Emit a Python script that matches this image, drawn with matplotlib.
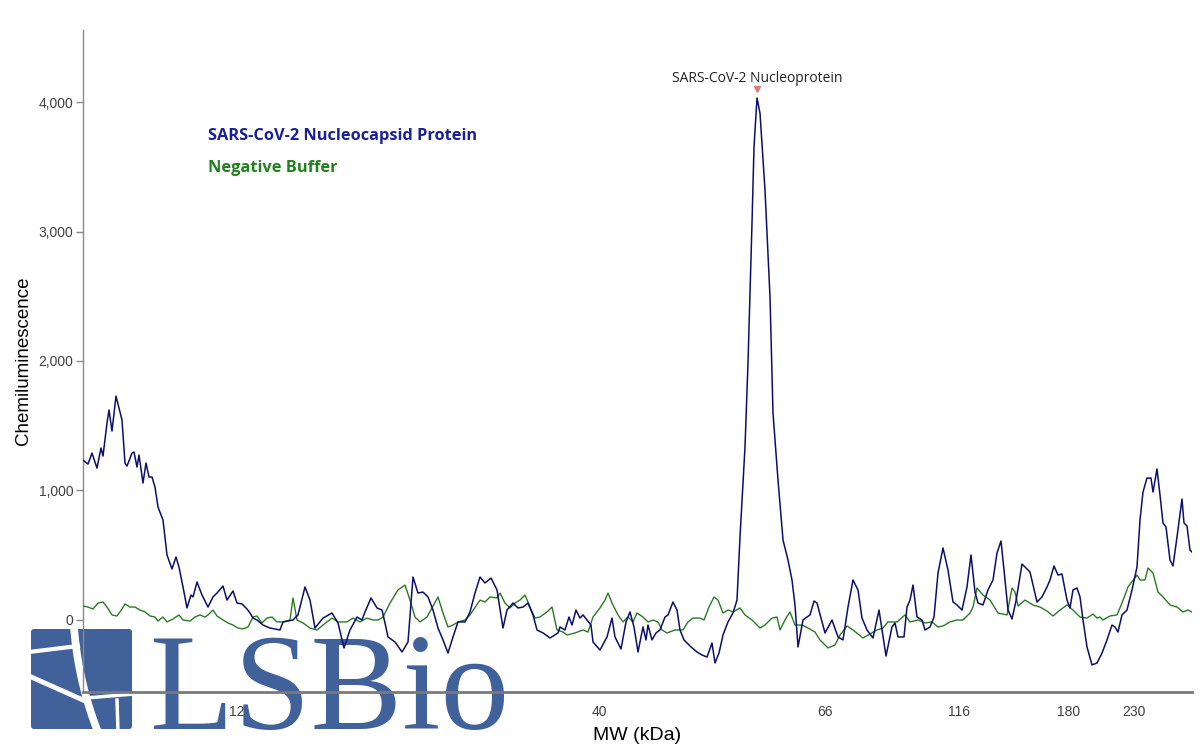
import numpy as np
import matplotlib
matplotlib.use("Agg")
import matplotlib.pyplot as plt
from matplotlib.patches import FancyBboxPatch

# ---------------- data ----------------
# relative mobility position along the lane (axis units) and chemiluminescence
blue_pos = [0, 5, 9, 14, 18, 20, 24, 26, 29, 33, 39, 42, 44, 49, 51, 54, 56, 60, 63, 66, 69, 72, 75, 80, 84,
            89, 93, 96, 100, 104, 108, 110, 114, 119, 125, 130, 134, 140, 144, 150, 154, 159, 164, 167, 170,
            174, 180, 187, 197, 200, 210, 215, 222, 227, 232, 240, 249, 255, 261, 267, 274, 279, 282, 288,
            294, 299, 302, 305, 312, 319, 325, 330, 335, 340, 345, 350, 355, 360, 365, 370, 375, 382, 387,
            392, 397, 402, 408, 414, 420, 424, 430, 435, 440, 445, 450, 454, 460, 467, 475, 477, 482, 486,
            489, 493, 497, 500, 504, 508, 510, 517, 524, 529, 532, 538, 543, 547, 551, 555, 560, 563, 565,
            569, 573, 577, 582, 585, 590, 594, 597, 601, 608, 614, 619, 624, 629, 632, 636, 640, 645, 650,
            654, 657, 662, 665, 669, 671, 674, 677, 682, 687, 690, 695, 700, 705, 709, 712, 715, 720, 724,
            727, 731, 734, 742, 749, 755, 760, 765, 770, 775, 779, 784, 790, 796, 799, 803, 809, 812, 815,
            821, 824, 827, 830, 834, 839, 842, 847, 851, 855, 860, 865, 870, 874, 879, 884, 888, 892, 895,
            900, 905, 910, 914, 918, 921, 925, 929, 933, 939, 947, 954, 959, 964, 967, 971, 975, 979, 984,
            987, 990, 994, 997, 1000, 1004, 1009, 1014, 1019, 1024, 1029, 1032, 1035, 1039, 1044, 1049,
            1054, 1057, 1060, 1064, 1068, 1070, 1074, 1077, 1080, 1083, 1087, 1090, 1094, 1099, 1101, 1104,
            1107, 1109]
blue_val = [1235, 1204, 1289, 1173, 1328, 1266, 1521, 1621, 1459, 1729, 1544, 1212, 1189, 1289, 1297, 1181,
            1274, 1058, 1212, 1104, 1104, 1027, 872, 772, 502, 394, 486, 409, 255, 93, 193, 178, 293, 193,
            100, 178, 208, 262, 154, 224, 131, 124, 85, 54, 15, 0, -39, -62, -77, -15, 0, 39, 255, 154, -62,
            15, 54, -23, -216, -77, 23, 0, 62, 170, 93, 77, -23, -131, -170, -247, -170, 332, 208, 216, 178,
            77, -62, -154, -255, -131, -15, -15, 62, 208, 332, 286, 324, 232, -62, 77, 131, 93, 100, 131, 39,
            -77, -100, -139, -100, -54, -77, 23, -39, 77, 15, 39, 0, -39, -170, -232, -131, 15, -131, -224,
            -15, 62, -54, -247, -54, -154, -39, -154, -100, -77, 23, 39, 139, 77, -77, -154, -208, -247,
            -270, -286, -178, -332, -255, -116, -15, 54, 154, 641, 1336, 1985, 3065, 3652, 4030, 3914, 3320,
            2494, 1598, 1081, 618, 463, 309, 116, -208, 0, 23, 39, 147, 131, -100, 0, -131, -154, 100, 309,
            232, 15, -77, -139, 77, -77, -278, -54, -23, -131, -131, 100, 154, 270, 23, 0, -77, -54, 23, 363,
            556, 386, 139, 116, 77, 255, 502, 216, 131, 116, 232, 309, 517, 610, 386, 77, 8, 147, 432, 371,
            139, 178, 255, 309, 417, 347, 355, 154, 93, 232, 247, 178, 0, -208, -347, -332, -255, -154, -39,
            -54, -93, 39, 77, 232, 409, 772, 988, 1096, 1096, 988, 1166, 965, 749, 718, 463, 417, 641, 934,
            749, 726, 540, 525]

green_pos = [0, 5, 10, 15, 20, 24, 29, 34, 39, 42, 47, 52, 57, 62, 67, 72, 75, 80, 84, 90, 96, 100, 107,
             112, 117, 122, 125, 130, 134, 140, 145, 150, 155, 160, 165, 170, 174, 179, 184, 189, 194, 200,
             207, 210, 214, 220, 227, 234, 240, 249, 255, 264, 270, 277, 284, 290, 295, 300, 307, 315, 322,
             327, 332, 337, 344, 349, 355, 360, 365, 370, 375, 382, 387, 397, 402, 407, 414, 417, 422, 427,
             432, 437, 442, 447, 452, 457, 464, 469, 474, 480, 484, 492, 500, 505, 510, 517, 522, 525, 529,
             535, 540, 545, 550, 554, 560, 565, 570, 575, 579, 584, 592, 600, 605, 610, 617, 621, 626, 631,
             635, 640, 645, 650, 657, 662, 669, 677, 682, 689, 694, 697, 703, 707, 712, 719, 725, 732, 737,
             745, 752, 757, 764, 770, 780, 787, 794, 800, 805, 814, 822, 827, 835, 842, 849, 855, 860, 867,
             874, 880, 887, 890, 894, 900, 907, 915, 924, 929, 932, 935, 942, 950, 957, 964, 970, 977, 984,
             990, 997, 1004, 1010, 1014, 1017, 1020, 1027, 1034, 1039, 1045, 1054, 1057, 1062, 1065, 1070,
             1075, 1080, 1087, 1094, 1100, 1105, 1109]
green_val = [108, 100, 85, 131, 139, 100, 39, 31, 85, 124, 100, 100, 77, 62, 31, 23, -8, 23, -15, 8, 39, 0,
             -8, 23, 39, 23, 39, 77, 31, 0, -23, -39, -62, -69, -54, 23, 31, -23, 15, 23, -15, -15, 0, 170, 0,
             -23, -62, -77, -39, 15, -15, -15, 15, -15, 15, 0, 0, 23, 131, 232, 270, 154, 23, -15, 23, 93, 178,
             54, -54, -39, -15, 0, 39, 154, 139, 178, 170, 208, 131, 93, 131, 154, 193, 100, 15, 23, 62, 100,
             -77, -93, -116, -100, -77, -93, 23, 93, 154, 208, 131, 39, -15, 23, -15, 54, 23, -15, 0, -15, -77,
             -100, -77, -77, -15, 15, 15, 0, 100, 178, 154, 54, 77, 62, 93, 39, 0, -62, -39, 15, 23, -77, 15,
             62, -39, -39, -62, -93, -154, -216, -193, -116, -46, -77, -139, -108, -77, -62, -15, -15, 39, -15,
             0, -23, -15, -54, -46, -15, 0, 0, 54, 100, 247, 193, 154, 54, 39, 247, 216, 108, 154, 116, 100,
             69, 31, 77, 116, 77, 23, 15, 46, 15, 23, 0, 31, 39, 131, 255, 347, 309, 309, 402, 363, 216, 178,
             116, 100, 62, 77, 62]

tick_pos = [154, 516, 742, 876, 986, 1051]
tick_labels = ["12", "40", "66", "116", "180", "230"]
y_ticks = [0, 1000, 2000, 3000, 4000]

peak_label = "SARS-CoV-2 Nucleoprotein"
peak_pos = 674
peak_val = 4030
series_names = ["SARS-CoV-2 Nucleocapsid Protein", "Negative Buffer"]

BLUE = "#0b0f6b"
GREEN = "#2a7a22"
LOGO = "#40619a"
SANS = ["Liberation Sans", "DejaVu Sans"]

# ---------------- figure ----------------
fig = plt.figure(figsize=(12, 7.5), dpi=100)
fig.patch.set_facecolor("white")

# logo layer (behind the chart), pixel coordinates
lax = fig.add_axes([0, 0, 1, 1], zorder=0)
lax.set_xlim(0, 1200)
lax.set_ylim(750, 0)
lax.axis("off")
sq = FancyBboxPatch((31, 629), 101, 100, boxstyle="round,pad=0,rounding_size=3",
                    facecolor=LOGO, edgecolor="none")
lax.add_patch(sq)
cx, cy, r = 438, 600, 362
yy = np.linspace(626, 732, 60)
xx = cx - np.sqrt(r ** 2 - (yy - cy) ** 2)
lax.plot(xx - 3, yy, color="white", lw=5.5, solid_capstyle="butt")
lax.plot([29, 78], [652, 646], color="white", lw=3)
lax.plot([29, 83], [676, 700], color="white", lw=3.5)
lax.plot([86, 134], [698, 694], color="white", lw=2.5)
lax.plot([117, 118], [700, 732], color="white", lw=2.5)
lax.text(150, 729, "LSBio", family=["Liberation Serif", "DejaVu Serif"], fontsize=99,
         color=LOGO, ha="left", va="baseline")

# main chart
ax = fig.add_axes([83 / 1200, 58 / 750, 1109 / 1200, 662 / 750], zorder=1)
ax.patch.set_alpha(0)
ax.plot(green_pos, green_val, color=GREEN, lw=1.0, zorder=3)
ax.plot(blue_pos, blue_val, color=BLUE, lw=1.1, zorder=4)

ax.set_xlim(0, 1109)
ax.set_ylim(-556, 4556)

for s in ["top", "right"]:
    ax.spines[s].set_visible(False)
ax.spines["left"].set_color("#8a8a8a")
ax.spines["left"].set_linewidth(1.0)
ax.spines["bottom"].set_color("#7a7a7a")
ax.spines["bottom"].set_linewidth(2.0)

ax.set_yticks(y_ticks)
ax.set_yticklabels([f"{v:,}" for v in y_ticks], family=SANS, fontsize=10, color="#404040")
ax.tick_params(axis="y", length=5, width=1, color="#8a8a8a", pad=2)
ax.set_xticks(tick_pos)
ax.set_xticklabels(tick_labels, family=SANS, fontsize=10, color="#404040")
ax.tick_params(axis="x", length=0, pad=9)

ax.set_xlabel("MW (kDa)", family=SANS, fontsize=14, color="black", labelpad=6)
fig.text(24 / 1200, 1 - 361 / 750, "Chemiluminescence", family=SANS, fontsize=13.5,
         color="black", rotation=90, ha="center", va="center")

# peak annotation
ax.plot([peak_pos], [peak_val + 70], marker="v", color="#e07a7a", markersize=5, zorder=5,
        linestyle="none")
ax.annotate(peak_label, (peak_pos, peak_val), xytext=(0, 14), textcoords="offset points",
            ha="center", va="center", fontsize=10, color="#222222", family=["Open Sans", "DejaVu Sans"])

# legend-like labels
ax.text(125 / 1109, (750 - 136 - 58) / 662, series_names[0], transform=ax.transAxes,
        color="#1a1f9a", fontsize=11.8, fontweight="bold", family=["Open Sans", "DejaVu Sans"],
        ha="left", va="center")
ax.text(125 / 1109, (750 - 168 - 58) / 662, series_names[1], transform=ax.transAxes,
        color="#23801f", fontsize=11.8, fontweight="bold", family=["Open Sans", "DejaVu Sans"],
        ha="left", va="center")

fig.savefig("out.png", dpi=100)
